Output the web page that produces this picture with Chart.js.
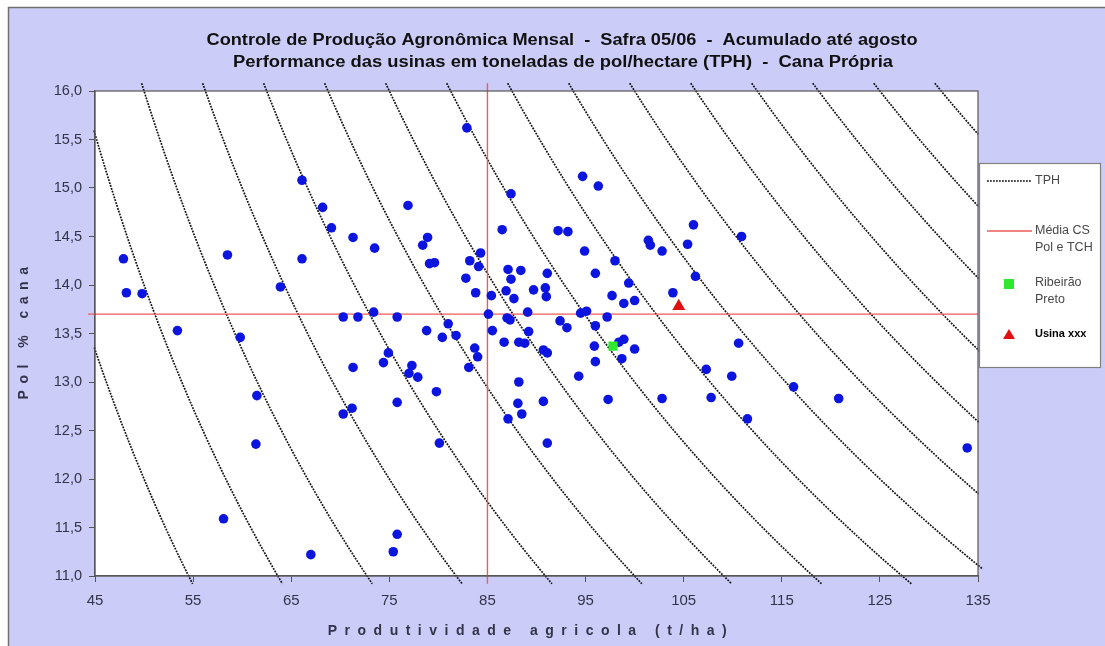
<!DOCTYPE html>
<html>
<head>
<meta charset="utf-8">
<script src="https://cdn.jsdelivr.net/npm/chart.js@4.4.0/dist/chart.umd.min.js"></script>
<style>
  html, body { margin: 0; padding: 0; background: #ffffff; }
  canvas { display: block; }
</style>
</head>
<body>
<canvas id="chart" width="1105" height="646"></canvas>
<script>
// Usinas: produtividade agricola (t/ha) e pol % cana
const produtividade = [
  47.9, 48.2, 49.8, 53.4, 58.5, 63.9, 66.1, 68.2, 69.1, 71.3, 66.1, 70.3, 71.8, 59.8, 61.5, 61.4,
  58.1, 67.0, 71.3, 71.2, 70.3, 82.9, 94.7, 96.3, 87.4, 76.9, 73.5, 78.9, 78.4, 79.1, 79.6, 84.3,
  83.2, 84.1, 82.8, 83.8, 85.4, 86.5, 87.1, 88.4, 87.4, 86.9, 87.7, 89.7, 91.1, 90.9, 91.0, 89.1,
  92.2, 93.2, 94.9, 98.0, 96.0, 99.4, 97.7, 98.9, 100.0, 101.4, 101.6, 94.5, 95.1, 97.2, 92.4, 85.1,
  87.0, 87.3, 75.8, 73.4, 81.0, 78.8, 80.4, 81.8, 85.5, 86.7, 88.2, 88.8, 89.2, 93.1, 96.0, 95.9,
  96.0, 94.3, 97.3, 98.7, 98.9, 98.4, 100.0, 90.7, 91.1, 83.7, 84.0, 83.1, 74.9, 74.4, 77.3, 77.0,
  77.9, 79.8, 75.8, 80.1, 75.8, 75.4, 88.2, 88.1, 88.5, 87.1, 90.7, 91.1, 106.0, 102.8, 105.4, 110.9,
  106.2, 103.9, 110.6, 107.3, 109.9, 116.2, 102.8, 107.8, 120.8, 111.5, 133.9
];
const polCana = [
  14.27, 13.92, 13.91, 13.53, 14.31, 13.98, 15.08, 14.80, 14.59, 14.49, 14.27, 13.67, 13.67, 13.46, 12.86, 12.36,
  11.59, 11.22, 13.15, 12.73, 12.67, 15.62, 15.12, 15.02, 14.94, 14.82, 14.38, 14.49, 14.41, 14.22, 14.23, 14.33,
  14.25, 14.19, 14.07, 13.92, 13.89, 14.57, 14.16, 14.15, 14.06, 13.94, 13.86, 13.95, 14.12, 13.97, 13.88, 13.72,
  14.56, 14.55, 14.35, 14.25, 14.12, 14.02, 13.89, 13.81, 13.84, 14.46, 14.41, 13.71, 13.73, 13.67, 13.63, 13.70,
  13.66, 13.64, 13.67, 13.72, 13.60, 13.53, 13.46, 13.48, 13.53, 13.41, 13.41, 13.40, 13.52, 13.56, 13.58, 13.37,
  13.21, 13.06, 12.82, 13.24, 13.44, 13.41, 13.34, 13.33, 13.30, 13.35, 13.26, 13.15, 13.30, 13.20, 13.17, 13.09,
  13.05, 12.90, 12.79, 12.37, 11.43, 11.25, 13.00, 12.78, 12.67, 12.62, 12.80, 12.37, 14.62, 14.35, 14.42, 14.50,
  14.09, 13.92, 13.40, 13.13, 13.06, 12.95, 12.83, 12.84, 12.83, 12.62, 12.32
];

// Destaques
const ribeiraoPreto = { x: 97.8, y: 13.37 };
const usina = { x: 104.5, y: 13.78 };

// Médias CS
const mediaTCH = 85;
const mediaPol = 13.7;

// Curvas de TPH (t pol/ha)
const tphLevels = [6, 7, 8, 9, 10, 11, 12, 13, 14, 15, 16, 17, 18, 19, 20, 21];

const xTicks = [45, 55, 65, 75, 85, 95, 105, 115, 125, 135];
const yTicks = [11.0, 11.5, 12.0, 12.5, 13.0, 13.5, 14.0, 14.5, 15.0, 15.5, 16.0];

const titleLines = [
  'Controle de Produção Agronômica Mensal  -  Safra 05/06  -  Acumulado até agosto',
  'Performance das usinas em toneladas de pol/hectare (TPH)  -  Cana Própria'
];
const xTitle = 'Produtividade agricola (t/ha)';
const yTitle = 'Pol % cana';

const LAVENDER = '#ccccf9';
const TEXT = '#33334a';
const FONT = '"Liberation Sans", Arial, sans-serif';

// iso-TPH curve: pol = TPH * 100 / TCH
function tphCurve(t) {
  const pts = [];
  const yTop = 16.08, yBot = 10.92, xMin = 44.4, xMax = 135.5;
  const xs = Math.max(xMin, t * 100 / yTop);
  const xe = Math.min(xMax, t * 100 / yBot);
  const n = 80;
  for (let i = 0; i <= n; i++) {
    const x = xs + (xe - xs) * i / n;
    pts.push({ x, y: t * 100 / x });
  }
  return pts;
}

const pointsData = produtividade.map((x, i) => ({ x, y: polCana[i] }));

const datasets = [
  {
    label: 'Usina xxx', data: [usina], pointStyle: 'triangle', pointRadius: 7.5,
    backgroundColor: '#e01010', borderColor: '#e01010', borderWidth: 0, order: -2
  },
  {
    label: 'Ribeirão Preto', data: [ribeiraoPreto], pointStyle: 'rect', pointRadius: 6.5,
    backgroundColor: '#2ee82e', borderColor: '#2ee82e', borderWidth: 0, order: -1
  },
  {
    label: 'Usinas', data: pointsData, pointRadius: 4.8, pointStyle: 'circle',
    backgroundColor: '#0c14e0', borderColor: '#0c14e0', borderWidth: 0, order: 0
  },
  {
    label: 'Média Pol', data: [{ x: 44.3, y: mediaPol }, { x: 135, y: mediaPol }],
    showLine: true, pointRadius: 0, borderColor: '#f05a5a', borderWidth: 1.4,
    clip: { left: 10, right: 0, top: 0, bottom: 0 }, order: 1
  },
  {
    label: 'Média TCH', data: [{ x: mediaTCH, y: 16.08 }, { x: mediaTCH, y: 10.92 }],
    showLine: true, pointRadius: 0, borderColor: '#f05a5a', borderWidth: 1.4,
    clip: { left: 0, right: 0, top: 10, bottom: 10 }, order: 1
  }
];
tphLevels.forEach((t) => {
  datasets.push({
    label: 'TPH ' + t, data: tphCurve(t), showLine: true, pointRadius: 0,
    borderColor: '#111111', borderWidth: 1.7, borderDash: [1.8, 1.2],
    clip: { left: 10, right: 10, top: 10, bottom: 10 }, order: 2
  });
});

// draw text stretched to a given width, centred on cx
function fitText(ctx, text, cx, cy, width) {
  const w = ctx.measureText(text).width;
  ctx.save();
  ctx.translate(cx, cy);
  ctx.scale(width / w, 1);
  ctx.fillText(text, 0, 0);
  ctx.restore();
}

const framePlugin = {
  id: 'frame',
  beforeDraw(chart) {
    const { ctx, chartArea: a } = chart;
    ctx.save();
    ctx.fillStyle = '#ffffff';
    ctx.fillRect(0, 0, chart.width, chart.height);
    ctx.fillStyle = LAVENDER;
    ctx.fillRect(8, 7, chart.width - 8, chart.height - 7);
    ctx.strokeStyle = '#707070';
    ctx.lineWidth = 1.5;
    ctx.beginPath();
    ctx.moveTo(8.5, chart.height);
    ctx.lineTo(8.5, 7.5);
    ctx.lineTo(chart.width, 7.5);
    ctx.stroke();
    ctx.fillStyle = '#ffffff';
    ctx.fillRect(a.left, a.top, a.right - a.left, a.bottom - a.top);
    ctx.restore();
  },
  afterDraw(chart) {
    const { ctx, chartArea: a } = chart;
    ctx.save();
    // plot border
    ctx.strokeStyle = '#555555';
    ctx.lineWidth = 1.2;
    ctx.strokeRect(a.left, a.top, a.right - a.left, a.bottom - a.top);

    // titles
    ctx.fillStyle = '#111111';
    ctx.textAlign = 'center';
    ctx.textBaseline = 'middle';
    ctx.font = 'bold 16px ' + FONT;
    fitText(ctx, titleLines[0], 562, 41, 711);
    fitText(ctx, titleLines[1], 563, 63, 660);

    // axis titles
    ctx.fillStyle = TEXT;
    ctx.font = 'bold 14px ' + FONT;
    ctx.letterSpacing = '7.5px';
    ctx.fillText(xTitle, 531, 631);
    ctx.save();
    ctx.translate(24, 330);
    ctx.rotate(-Math.PI / 2);
    ctx.letterSpacing = '6.5px';
    ctx.fillText(yTitle, 0, 0);
    ctx.restore();
    ctx.letterSpacing = '0px';

    // legend
    const L = 979, T = 163, R = 1100, B = 367;
    ctx.fillStyle = '#ffffff';
    ctx.fillRect(L, T, R - L, B - T);
    ctx.strokeStyle = '#808080';
    ctx.lineWidth = 1.2;
    ctx.strokeRect(L + 0.5, T + 0.5, R - L, B - T);

    ctx.textAlign = 'left';
    ctx.font = '12.5px ' + FONT;
    ctx.fillStyle = '#484848';

    ctx.strokeStyle = '#111111';
    ctx.lineWidth = 1.4;
    ctx.setLineDash([1.8, 1.2]);
    ctx.beginPath();
    ctx.moveTo(987, 181); ctx.lineTo(1032, 181);
    ctx.stroke();
    ctx.setLineDash([]);
    ctx.fillText('TPH', 1035, 181);

    ctx.strokeStyle = '#f05a5a';
    ctx.lineWidth = 1.5;
    ctx.beginPath();
    ctx.moveTo(987, 231); ctx.lineTo(1032, 231);
    ctx.stroke();
    ctx.fillText('Média CS', 1035, 231);
    ctx.fillText('Pol e TCH', 1035, 248);

    ctx.fillStyle = '#2ee82e';
    ctx.fillRect(1004, 279, 10, 10);
    ctx.fillStyle = '#484848';
    ctx.fillText('Ribeirão', 1035, 283);
    ctx.fillText('Preto', 1035, 300);

    ctx.fillStyle = '#e01010';
    ctx.beginPath();
    ctx.moveTo(1009, 329); ctx.lineTo(1015, 339); ctx.lineTo(1003, 339);
    ctx.closePath();
    ctx.fill();
    ctx.fillStyle = '#000000';
    ctx.font = 'bold 11px ' + FONT;
    ctx.fillText('Usina xxx', 1035, 334);
    ctx.restore();
  }
};

new Chart(document.getElementById('chart'), {
  type: 'scatter',
  data: { datasets },
  options: {
    responsive: false,
    animation: false,
    devicePixelRatio: 1,
    layout: { padding: { left: 0, top: 91, right: 127, bottom: 0 } },
    plugins: { legend: { display: false }, tooltip: { enabled: false } },
    scales: {
      x: {
        type: 'linear', min: 45, max: 135,
        afterFit: (s) => { s.height = 70; },
        afterBuildTicks: (s) => { s.ticks = xTicks.map((v) => ({ value: v })); },
        ticks: { color: TEXT, font: { family: FONT, size: 15 }, padding: 10, maxRotation: 0 },
        grid: { drawOnChartArea: false, tickLength: 6, color: '#555555' },
        border: { color: '#555555', width: 1.2 }
      },
      y: {
        type: 'linear', min: 11, max: 16,
        afterFit: (s) => { s.width = 95; },
        afterBuildTicks: (s) => { s.ticks = yTicks.map((v) => ({ value: v })); },
        ticks: {
          color: TEXT, font: { family: FONT, size: 14.5 }, padding: 7,
          callback: (v) => Number(v).toFixed(1).replace('.', ',')
        },
        grid: { drawOnChartArea: false, tickLength: 6, color: '#555555' },
        border: { color: '#555555', width: 1.2 }
      }
    }
  },
  plugins: [framePlugin]
});
</script>
</body>
</html>
